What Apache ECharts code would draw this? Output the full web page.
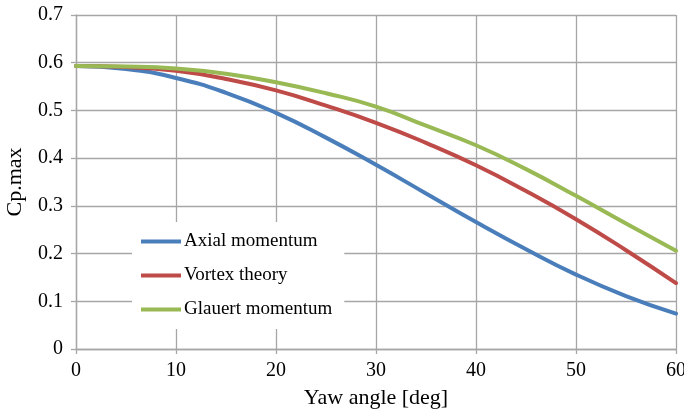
<!DOCTYPE html>
<html>
<head>
<meta charset="utf-8">
<script src="https://cdn.jsdelivr.net/npm/echarts@6/dist/echarts.min.js"></script>
<style>
  html, body { margin: 0; padding: 0; background: #fff; }
  #chart { width: 684px; height: 413px; }
</style>
</head>
<body>
<div id="chart"></div>
<script>
// Yaw angle in degrees
const yawAngles = [0, 5, 10, 15, 20, 25, 30, 35, 40, 45, 50, 55, 60];

// Maximum power coefficient for each model
const axialMomentum   = [0.593, 0.587, 0.568, 0.537, 0.495, 0.443, 0.386, 0.326, 0.266, 0.209, 0.156, 0.111, 0.074];
const vortexTheory    = [0.593, 0.591, 0.583, 0.566, 0.542, 0.510, 0.474, 0.432, 0.385, 0.331, 0.272, 0.207, 0.138];
const glauertMomentum = [0.593, 0.592, 0.588, 0.577, 0.559, 0.536, 0.508, 0.468, 0.427, 0.377, 0.321, 0.263, 0.206];

const seriesNames = ['Axial momentum', 'Vortex theory', 'Glauert momentum'];
const seriesColors = ['#4a7ebb', '#be4b48', '#98b954'];

const FONT = '"Liberation Serif", "Times New Roman", serif';
const GRID_COLOR = '#a6a6a6';

function pairs(values) {
  return yawAngles.map((x, i) => [x, values[i]]);
}

const chart = echarts.init(document.getElementById('chart'), null, { renderer: 'canvas' });

chart.setOption({
  animation: false,
  backgroundColor: '#ffffff',
  textStyle: { fontFamily: FONT },
  grid: { left: 76, right: 8, top: 15, bottom: 64, containLabel: false, outerBoundsMode: 'none' },
  legend: {
    orient: 'vertical',
    left: 132,
    top: 222,
    backgroundColor: '#ffffff',
    padding: [10, 12, 10, 9],
    itemGap: 15,
    itemWidth: 40,
    itemHeight: 4,
    icon: 'rect',
    textStyle: { fontFamily: FONT, fontSize: 19, color: '#000', lineHeight: 19, padding: [0, 0, 0, -2] },
    data: seriesNames
  },
  xAxis: {
    type: 'value',
    min: 0,
    max: 60,
    interval: 10,
    name: 'Yaw angle [deg]',
    nameLocation: 'middle',
    nameGap: 38,
    nameTextStyle: { fontFamily: FONT, fontSize: 22, color: '#000' },
    axisLine: { show: true, lineStyle: { color: GRID_COLOR, width: 1.3 } },
    axisTick: { show: true, length: 5, lineStyle: { color: GRID_COLOR, width: 1.3 } },
    axisLabel: { margin: 12, fontFamily: FONT, fontSize: 20, color: '#000' },
    splitLine: { show: true, lineStyle: { color: GRID_COLOR, width: 1.3 } }
  },
  yAxis: {
    type: 'value',
    min: 0,
    max: 0.7,
    interval: 0.1,
    name: 'Cp.max',
    nameLocation: 'middle',
    nameGap: 50,
    nameRotate: 90,
    nameTextStyle: { fontFamily: FONT, fontSize: 22, color: '#000' },
    axisLine: { show: true, lineStyle: { color: GRID_COLOR, width: 1.3 } },
    axisTick: { show: true, length: 5, lineStyle: { color: GRID_COLOR, width: 1.3 } },
    axisLabel: {
      margin: 13,
      fontFamily: FONT,
      fontSize: 20,
      color: '#000',
      formatter: v => (Math.round(v * 10) / 10).toString()
    },
    splitLine: { show: true, lineStyle: { color: GRID_COLOR, width: 1.3 } }
  },
  series: [axialMomentum, vortexTheory, glauertMomentum].map((vals, i) => ({
    name: seriesNames[i],
    type: 'line',
    data: pairs(vals),
    smooth: 0.5,
    symbol: 'none',
    color: seriesColors[i],
    lineStyle: { width: 4, color: seriesColors[i], cap: 'round' },
    z: 2 + i
  }))
});
</script>
</body>
</html>
